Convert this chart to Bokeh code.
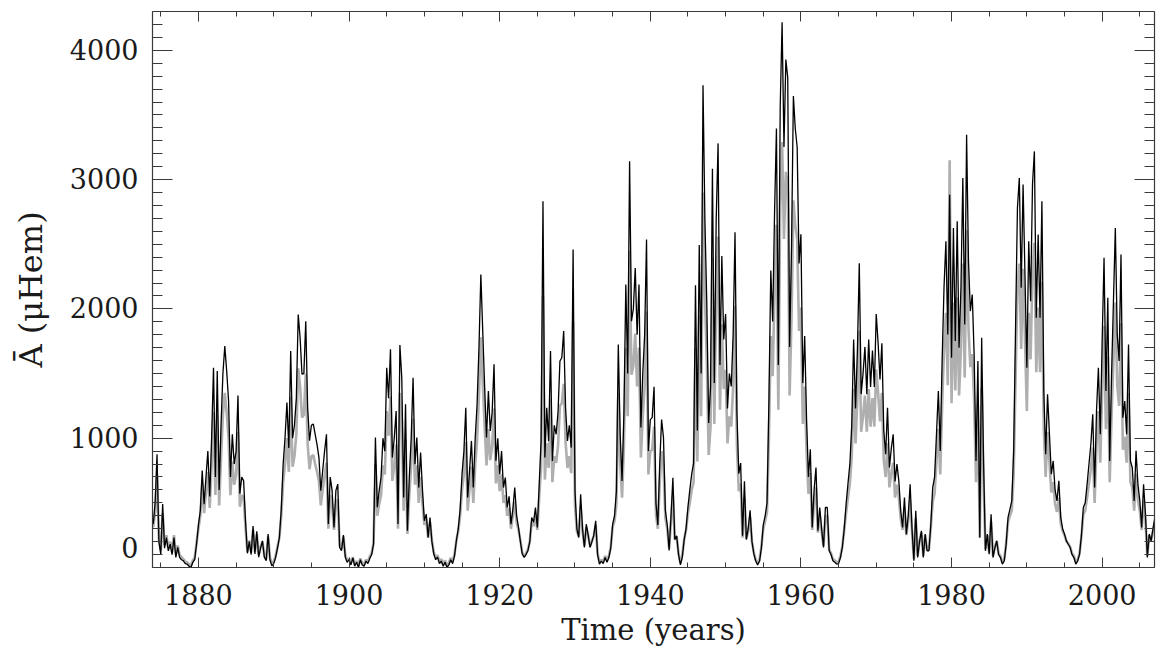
from bokeh.plotting import figure
from bokeh.models import Range1d, SingleIntervalTicker, LinearAxis
from bokeh.embed import file_html
from bokeh.resources import INLINE

# ---------------- data (quarterly samples) ----------------
T_START = 1874.0     # first sample (year)
STEP = 0.25          # years between samples

# mean area, black series (uHem), 4 samples per year
black_1870s = [336, 500, 876, 200,   104, 490, 150, 232,   129, 180, 100, 232,
               78, 155, 78, 60,      52, 30, 26, 10,       0, 39, 60, 180]
black_1880s = [330, 440, 750, 490,   700, 900, 550, 1000,  1545, 700, 1520, 600,
               1100, 1500, 1712, 1520, 1290, 700, 1030, 800, 900, 1330, 570, 700,
               670, 360, 110, 200,   100, 320, 104, 280,   80, 150, 206, 80,
               52, 258, 60, 13]
black_1890s = [30, 78, 150, 232,     450, 800, 1005, 1275, 925, 1675, 1000, 1100,
               1310, 1957, 1777, 1495, 1500, 1905, 1238, 980, 1100, 1110, 1030, 950,
               850, 594, 750, 900,   1030, 336, 700, 594,  310, 594, 645, 155,
               130, 250, 80, 40]
black_1900s = [60, 20, 75, 10,       40, 0, 60, 20,        10, 50, 30, 70,
               100, 180, 1005, 466,  594, 700, 1000, 900,  1545, 1310, 1688, 850,
               1000, 1210, 336, 1720, 1468, 542, 1262, 284, 700, 1000, 1468, 799,
               1005, 618, 889, 600]
black_1910s = [361, 413, 233, 387,   200, 104, 60, 80,     30, 50, 10, 40,
               0, 20, 60, 30,        90, 207, 300, 450,    722, 900, 1236, 542,
               750, 979, 618, 1000,  1262, 1700, 2266, 1828, 1400, 1005, 1365, 1056,
               1200, 1571, 825, 1000]
black_1920s = [722, 900, 618, 696,   464, 550, 335, 450,   618, 400, 310, 200,
               104, 78, 100, 130,    200, 387, 350, 464,   309, 644, 979, 2832,
               850, 1236, 979, 1674, 824, 1100, 1030, 1200, 1597, 1622, 1828, 1236,
               979, 1100, 927, 2459]
black_1930s = [592, 300, 232, 567,   300, 155, 335, 250,   155, 200, 250, 361,
               100, 26, 50, 30,      77, 40, 77, 150,      335, 400, 592, 1725,
               1030, 670, 1200, 2189, 1500, 3141, 1905, 2000, 2317, 1800, 2189, 1082,
               1500, 1800, 2536, 901]
black_1940s = [1144, 1159, 1397, 497, 329, 800, 1144, 1004, 442, 329, 132, 400,
               694, 216, 245, 100,   20, 80, 216, 300,    469, 600, 725, 808,
               2183, 1060, 2494, 1500, 3730, 2690, 2044, 1117, 1400, 3083, 1426, 2690,
               3280, 1566, 2409, 1763]
black_1950s = [1960, 1229, 1500, 1400, 1800, 2592, 1200, 725, 808, 245, 666, 216,
               300, 442, 200, 105,   50, 20, 48, 150,       329, 400, 497, 1284,
               2297, 1903, 2746, 3395, 1566, 3562, 4217, 3252, 3929, 3787, 1706, 2466,
               3646, 3395, 3252, 2352]
black_1960s = [2577, 1426, 1791, 1144, 700, 915, 310, 600,  773, 284, 464, 300,
               155, 464, 464, 129,   100, 52, 40, 26,       30, 77, 155, 300,
               490, 650, 799, 1100,  1763, 1229, 1678, 2352, 1341, 1500, 1706, 1341,
               1763, 1397, 1678, 1397]
black_1970s = [1960, 1735, 1454, 1735, 1060, 876, 1236, 773, 919, 1030, 666, 800,
               670, 438, 309, 541,   258, 400, 644, 300,    52, 438, 77, 200,
               284, 77, 258, 129,    129, 335, 618, 700,    1030, 1365, 902, 1597,
               2163, 2523, 1803, 2883]
black_1980s = [1622, 2626, 1751, 2678, 1700, 2163, 3012, 1880, 3347, 2369, 1983, 2111,
               1648, 824, 1597, 232, 1777, 824, 129, 258,   103, 412, 77, 150,
               206, 100, 77, 26,     50, 180, 387, 450,     515, 902, 1854, 2781,
               3012, 2163, 2961, 2266]
black_1990s = [1545, 2523, 2060, 2961, 3218, 1931, 2575, 1931, 2832, 1365, 876, 1339,
               1030, 721, 824, 600,  515, 670, 387, 300,    258, 206, 180, 155,
               100, 77, 26, 50,      103, 250, 464, 500,    644, 800, 953, 1185,
               618, 1210, 1545, 1030]
black_2000s = [1751, 2395, 1365, 2086, 824, 1494, 2060, 2626, 1803, 1597, 2420, 1159,
               1288, 1030, 1725, 824, 773, 515, 902, 644,   515, 309, 644, 412,
               77, 258, 206, 300,    387]

# gray companion series (uHem), same sampling; it reaches below the black
# troughs during active years, as seen in the picture
gray_1870s = [310, 430, 700, 220,   130, 420, 170, 250,   150, 200, 120, 250,
              100, 170, 95, 80,     65, 45, 40, 25,       15, 55, 75, 190]
gray_1880s = [300, 400, 640, 420,   580, 740, 460, 800,   1200, 560, 1180, 480,
              850, 1180, 1350, 1200, 1000, 560, 820, 640, 720, 1050, 470, 560,
              540, 310, 120, 210,   115, 290, 120, 260,   95, 160, 200, 95,
              65, 240, 75, 30]
gray_1890s = [45, 90, 160, 230,     400, 660, 800, 1000,  740, 1320, 780, 860,
              1030, 1540, 1400, 1160, 1180, 1500, 960, 760, 860, 870, 800, 740,
              670, 480, 600, 710,   810, 300, 560, 480,   290, 490, 530, 170,
              145, 240, 95, 55]
gray_1900s = [70, 35, 80, 25,       50, 15, 70, 35,       25, 60, 45, 85,
              110, 190, 800, 400,   490, 560, 790, 720,   1210, 1020, 1320, 670,
              780, 950, 300, 1350,  1150, 440, 990, 260,  560, 790, 1150, 640,
              790, 500, 700, 490]
gray_1910s = [330, 370, 230, 350,   210, 120, 75, 95,     45, 65, 25, 55,
              15, 35, 75, 45,       100, 210, 280, 400,   600, 720, 970, 440,
              610, 780, 500, 790,   990, 1330, 1780, 1430, 1100, 790, 1070, 830,
              940, 1230, 650, 790]
gray_1920s = [590, 720, 500, 560,   400, 460, 300, 400,   510, 350, 290, 210,
              115, 90, 110, 140,    200, 350, 320, 410,   290, 540, 780, 2100,
              680, 960, 770, 1300,  660, 860, 810, 940,   1250, 1270, 1420, 970,
              770, 860, 730, 1900]
gray_1930s = [480, 280, 240, 470,   280, 165, 310, 250,   165, 205, 245, 330,
              110, 40, 60, 45,      90, 55, 90, 160,      310, 360, 490, 1350,
              810, 540, 940, 1700,  1170, 2450, 1490, 1560, 1810, 1400, 1700, 850,
              1170, 1400, 1980, 720]
gray_1940s = [900, 910, 1090, 410,  300, 650, 900, 790,   380, 300, 145, 360,
              560, 215, 240, 110,   35, 95, 220, 290,     420, 500, 600, 660,
              1700, 820, 1950, 1170, 2900, 2100, 1600, 870, 1090, 2400, 1110, 2100,
              2560, 1220, 1880, 1380]
gray_1950s = [1530, 960, 1170, 1090, 1400, 2020, 940, 590, 650, 230, 540, 220,
              280, 390, 200, 115,   60, 35, 60, 160,      300, 360, 430, 1000,
              1790, 1480, 2140, 2650, 1220, 2780, 3290, 2540, 3060, 2950, 1330, 1920,
              2840, 2650, 2540, 1830]
gray_1960s = [2010, 1110, 1400, 890, 570, 730, 290, 500,  620, 270, 400, 280,
              165, 400, 400, 140,   110, 65, 55, 40,      45, 90, 165, 290,
              420, 540, 650, 860,   1380, 960, 1310, 1830, 1050, 1170, 1330, 1050,
              1380, 1090, 1310, 1090]
gray_1970s = [1530, 1350, 1130, 1350, 830, 700, 960, 620, 730, 810, 540, 640,
              540, 380, 290, 460,   250, 360, 520, 280,   65, 380, 90, 205,
              270, 90, 250, 140,    140, 310, 510, 570,   820, 1070, 720, 1250,
              1690, 1970, 1410, 3150]
gray_1980s = [1270, 2050, 1370, 2090, 1330, 1690, 2350, 1470, 2610, 1850, 1550, 1650,
              1290, 660, 1250, 230, 1390, 660, 140, 250,  115, 360, 90, 160,
              205, 110, 90, 40,     65, 185, 350, 400,    440, 720, 1450, 2170,
              2350, 1690, 2310, 1770]
gray_1990s = [1210, 1970, 1610, 2310, 2510, 1510, 2010, 1510, 2210, 1070, 700, 1050,
              810, 580, 660, 490,   430, 540, 340, 280,   250, 205, 185, 160,
              110, 90, 40, 60,      110, 240, 410, 440,   540, 650, 760, 930,
              500, 950, 1210, 810]
gray_2000s = [1370, 1870, 1070, 1630, 660, 1170, 1610, 2050, 1410, 1250, 1890, 910,
              1010, 810, 1350, 660, 620, 440, 720, 520,   440, 290, 520, 360,
              90, 250, 210, 280,    350]

x_ticks_interval = 20     # years between labelled ticks
y_ticks_interval = 1000   # uHem between labelled ticks

# ---------------- assemble ----------------
black = (black_1870s + black_1880s + black_1890s + black_1900s + black_1910s +
         black_1920s + black_1930s + black_1940s + black_1950s + black_1960s +
         black_1970s + black_1980s + black_1990s + black_2000s)
gray = (gray_1870s + gray_1880s + gray_1890s + gray_1900s + gray_1910s +
        gray_1920s + gray_1930s + gray_1940s + gray_1950s + gray_1960s +
        gray_1970s + gray_1980s + gray_1990s + gray_2000s)
black_t = [T_START + i * STEP for i in range(len(black))]
gray_t = [T_START + i * STEP for i in range(len(gray))]

FONT = "DejaVu Serif"
INK = "#1a1a1a"
AXC = "#3a3a3a"

p = figure(width=1156, height=653, output_backend="svg", toolbar_location=None,
           x_range=Range1d(1873.9, 2006.95), y_range=Range1d(0, 4300),
           min_border_left=152, min_border_right=2, min_border_top=11,
           min_border_bottom=86, background_fill_color="white",
           border_fill_color="white")
p.grid.visible = False
p.outline_line_color = None

p.line(x=gray_t, y=gray, line_color="#afafaf", line_width=2.6)
p.line(x=black_t, y=black, line_color="black", line_width=1.3)


def style_axis(ax, interval, minor, tin, tmin, labels=True):
    ax.ticker = SingleIntervalTicker(interval=interval, num_minor_ticks=minor)
    ax.axis_line_color = AXC
    ax.axis_line_width = 1.2
    ax.major_tick_line_color = AXC
    ax.minor_tick_line_color = AXC
    ax.major_tick_in = tin
    ax.major_tick_out = 0
    ax.minor_tick_in = tmin
    ax.minor_tick_out = 0
    if labels:
        ax.major_label_text_font = FONT
        ax.major_label_text_font_size = "27px"
        ax.major_label_text_color = INK
    else:
        ax.major_label_text_font_size = "0px"
        ax.major_label_standoff = 0


xb = p.xaxis[0]
style_axis(xb, x_ticks_interval, 4, 10, 5)
xb.major_label_standoff = 16
xb.axis_label = "Time (years)"
xb.axis_label_text_font = FONT
xb.axis_label_text_font_size = "29px"
xb.axis_label_text_font_style = "normal"
xb.axis_label_text_color = INK
xb.axis_label_standoff = 5

yl = p.yaxis[0]
style_axis(yl, y_ticks_interval, 10, 20, 10)
yl.major_label_standoff = 14
# the "0" label sits just above the bottom frame line, as in the original
yl.major_label_overrides = {0: "0\n"}
yl.axis_label = "\u0100 (\u03bcHem)"
yl.axis_label_text_font = FONT
yl.axis_label_text_font_size = "32px"
yl.axis_label_text_font_style = "normal"
yl.axis_label_text_color = INK
yl.axis_label_standoff = 17

xt = LinearAxis()
style_axis(xt, x_ticks_interval, 4, 10, 5, labels=False)
p.add_layout(xt, "above")

yr = LinearAxis()
style_axis(yr, y_ticks_interval, 10, 20, 10, labels=False)
p.add_layout(yr, "right")

open("out.html", "w").write(file_html(p, INLINE))
